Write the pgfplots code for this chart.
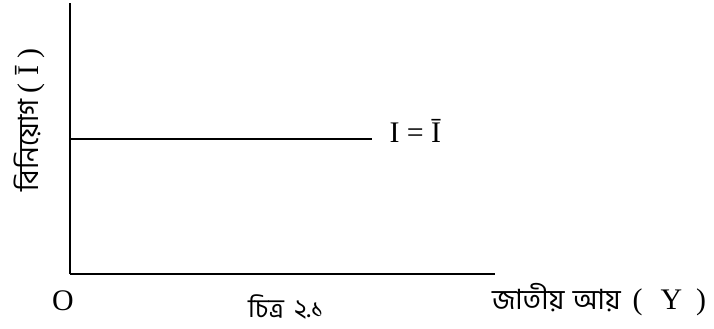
\documentclass[border=0pt]{standalone}
\usepackage{pgfplots}
\pgfplotsset{compat=1.18}
\usepackage{fontspec}
\setmainfont{Liberation Serif}
\newfontfamily\bn[Script=Bengali]{Hind Siliguri}
\newcommand\bnsize{\fontsize{28}{32}\selectfont}

\begin{document}
\begin{tikzpicture}[x=1bp,y=1bp]
\useasboundingbox (-70bp,-55bp) rectangle (644bp,274bp);
\begin{axis}[
  at={(0,0)}, anchor=origin,
  scale only axis,
  width=425bp, height=271bp,
  xmin=0, xmax=425, ymin=0, ymax=271,
  axis lines*=left,
  axis line style={line width=2.2bp, black},
  xtick=\empty, ytick=\empty,
  clip=false,
]
  % fixed investment line
  \addplot[black, line width=2.2bp] coordinates {(0,135) (302,135)};
  \node[anchor=base west, font=\fontsize{30}{36}\selectfont] at (axis cs:316,131) {I = Ī};
  \node[anchor=base, font=\fontsize{30}{36}\selectfont] at (axis cs:-7,-36) {O};
  \node[font=\fontsize{26}{30}\selectfont, inner sep=0pt, anchor=base] at (axis cs:216,-43) {\bn চিত্র\hspace{10bp}২.১};
  \node[anchor=west, inner sep=0pt, font=\fontsize{30}{36}\selectfont] at (axis cs:422,-26)
    {{\bnsize\bn জাতীয়\hspace{2bp} আয়}\hspace{12bp}(\hspace{18bp}Y\hspace{14bp})};
  \node[rotate=90, inner sep=0pt, font=\fontsize{30}{36}\selectfont] at (axis cs:-41,154)
    {{\bnsize\bn বিনিয়োগ}\hspace{6bp}( Ī )};
\end{axis}
\end{tikzpicture}
\end{document}
